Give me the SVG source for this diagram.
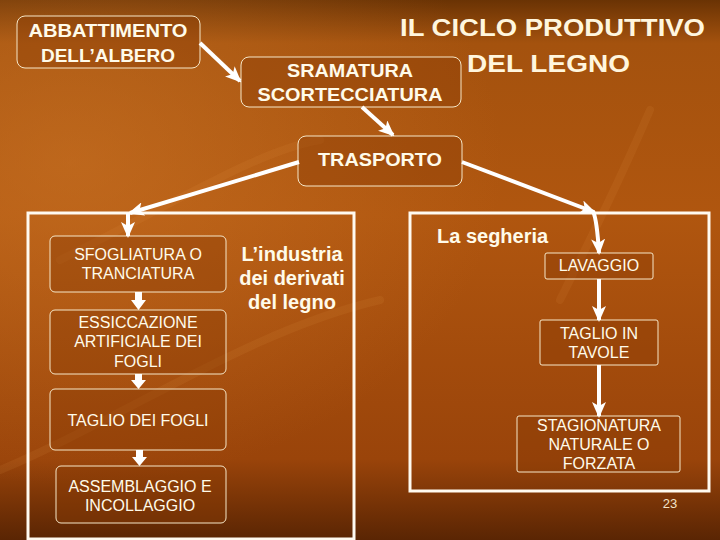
<svg xmlns="http://www.w3.org/2000/svg" width="720" height="540" viewBox="0 0 720 540">
  <defs>
    <linearGradient id="bg" x1="0" y1="0" x2="0" y2="1">
      <stop offset="0" stop-color="#6a3304"/>
      <stop offset="0.08" stop-color="#a4520e"/>
      <stop offset="0.4" stop-color="#b0560f"/>
      <stop offset="0.85" stop-color="#9a440a"/>
      <stop offset="1" stop-color="#5a2503"/>
    </linearGradient>
    <radialGradient id="glow" cx="0.1" cy="0.3" r="0.6">
      <stop offset="0" stop-color="#d07a2a" stop-opacity="0.5"/>
      <stop offset="1" stop-color="#d07a2a" stop-opacity="0"/>
    </radialGradient>
    <marker id="head" markerUnits="userSpaceOnUse" viewBox="0 0 16 14" refX="14" refY="7" markerWidth="16" markerHeight="14" orient="auto">
      <path d="M0,0 L16,7 L0,14 L4,7 z" fill="#ffffff"/>
    </marker>
    <style>
      .t { font-family: "Liberation Sans", Arial, sans-serif; fill: #fffbea; text-anchor: middle; }
      .b { font-weight: bold; font-size: 19px; }
      .s { font-size: 16px; }
      .big { font-weight: bold; font-size: 20px; }
      .title { font-family: "Liberation Sans", Arial, sans-serif; font-weight: bold; font-size: 24px; fill: #fff6de; }
      .box { fill: #8a3c05; fill-opacity: 0.4; stroke: #f6e7c8; stroke-width: 1; }
      .frame { fill: none; stroke: #fffaf0; stroke-width: 3; }
      .con { stroke: #ffffff; stroke-width: 4; fill: none; marker-end: url(#head); }
      .blk { fill: #ffffff; }
    </style>
  </defs>

  <rect x="0" y="0" width="720" height="540" fill="url(#bg)"/>
  <rect x="0" y="0" width="720" height="540" fill="url(#glow)"/>
  <g opacity="0.1" fill="none" stroke="#e8a050" stroke-width="8" stroke-linecap="round">
    <path d="M0,470 C120,420 250,330 380,300"/>
    <path d="M650,110 C620,180 590,240 560,300"/>
    <path d="M60,260 C180,200 260,150 320,140"/>
  </g>

  <g id="title">
    <text class="title" x="400" y="36" textLength="305" lengthAdjust="spacingAndGlyphs">IL CICLO PRODUTTIVO</text>
    <text class="title" x="467" y="72" textLength="163" lengthAdjust="spacingAndGlyphs">DEL LEGNO</text>
  </g>

  <g id="frame-derivati">
    <rect class="frame" x="28" y="213" width="326" height="326"/>
    <text class="t big" x="292" y="261">L’industria</text>
    <text class="t big" x="292" y="285">dei derivati</text>
    <text class="t big" x="292" y="309">del legno</text>
  </g>
  <g id="frame-segheria">
    <rect class="frame" x="410" y="213" width="299" height="278"/>
    <text class="t big" x="437" y="243" style="text-anchor:start">La segheria</text>
  </g>

  <g id="abbattimento">
    <rect class="box" x="17" y="16" width="183" height="52" rx="8"/>
    <text class="t b" x="108" y="37" textLength="159" lengthAdjust="spacingAndGlyphs">ABBATTIMENTO</text>
    <text class="t b" x="108" y="62">DELL’ALBERO</text>
  </g>
  <g id="sramatura">
    <rect class="box" x="241" y="57" width="220" height="50" rx="8"/>
    <text class="t b" x="350" y="77" textLength="126" lengthAdjust="spacingAndGlyphs">SRAMATURA</text>
    <text class="t b" x="350" y="101" textLength="185" lengthAdjust="spacingAndGlyphs">SCORTECCIATURA</text>
  </g>
  <g id="trasporto">
    <rect class="box" x="298" y="136" width="164" height="50" rx="8"/>
    <text class="t b" x="380" y="166" textLength="124" lengthAdjust="spacingAndGlyphs">TRASPORTO</text>
  </g>

  <g id="sfogliatura">
    <rect class="box" x="50" y="236" width="176" height="56" rx="5"/>
    <text class="t s" x="138" y="260">SFOGLIATURA O</text>
    <text class="t s" x="138" y="279">TRANCIATURA</text>
  </g>
  <g id="essiccazione">
    <rect class="box" x="50" y="310" width="176" height="64" rx="5"/>
    <text class="t s" x="138" y="328">ESSICCAZIONE</text>
    <text class="t s" x="138" y="347">ARTIFICIALE DEI</text>
    <text class="t s" x="138" y="367">FOGLI</text>
  </g>
  <g id="taglio-fogli">
    <rect class="box" x="50" y="389" width="176" height="61" rx="5"/>
    <text class="t s" x="138" y="426">TAGLIO DEI FOGLI</text>
  </g>
  <g id="assemblaggio">
    <rect class="box" x="56" y="466" width="170" height="57" rx="5"/>
    <text class="t s" x="140" y="492">ASSEMBLAGGIO E</text>
    <text class="t s" x="140" y="511">INCOLLAGGIO</text>
  </g>

  <g id="lavaggio">
    <rect class="box" x="545" y="253" width="108" height="26" rx="2"/>
    <text class="t s" x="599" y="271">LAVAGGIO</text>
  </g>
  <g id="taglio-tavole">
    <rect class="box" x="540" y="320" width="118" height="45" rx="2"/>
    <text class="t s" x="599" y="339">TAGLIO IN</text>
    <text class="t s" x="599" y="358">TAVOLE</text>
  </g>
  <g id="stagionatura">
    <rect class="box" x="517" y="416" width="163" height="56" rx="2"/>
    <text class="t s" x="599" y="431">STAGIONATURA</text>
    <text class="t s" x="599" y="450">NATURALE O</text>
    <text class="t s" x="599" y="469">FORZATA</text>
  </g>

  <g id="connectors">
    <line class="con" x1="200" y1="43" x2="240" y2="81"/>
    <line class="con" x1="362" y1="107" x2="393" y2="135"/>
    <line class="con" x1="299" y1="162" x2="130" y2="213"/>
    <line class="con" x1="128" y1="213" x2="128" y2="236"/>
    <line class="con" x1="462" y1="162" x2="594" y2="212"/>
    <path class="con" d="M593,211 Q597,220 599,253"/>
    <line class="con" x1="599" y1="279" x2="599" y2="320"/>
    <line class="con" x1="599" y1="365" x2="599" y2="416"/>
    <polygon class="blk" points="135,292 142,292 142,300 146,300 138.5,310 131,300 135,300"/>
    <polygon class="blk" points="135,374 142,374 142,380 146,380 138.5,389 131,380 135,380"/>
    <polygon class="blk" points="136,450 143,450 143,457 147,457 139.5,466 132,457 136,457"/>
  </g>

  <text x="670" y="508" style="font-family:'Liberation Sans Narrow','Liberation Sans',sans-serif;font-size:13px;fill:#f3e3c8;text-anchor:middle">23</text>
</svg>
